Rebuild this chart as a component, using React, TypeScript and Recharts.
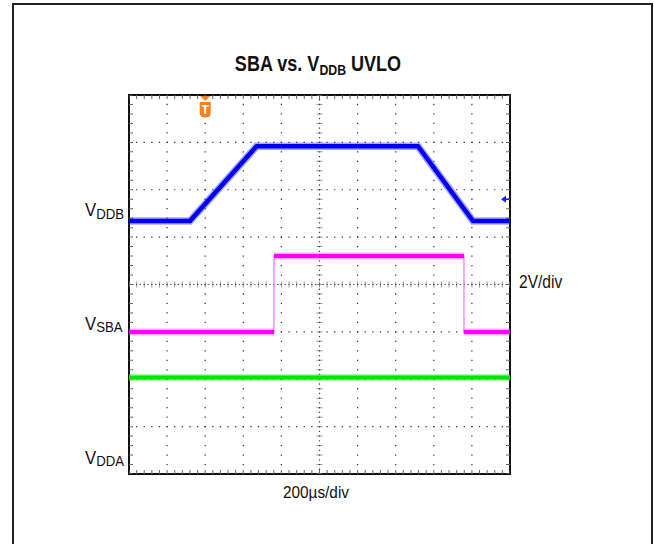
import React from 'react';
import { LineChart, Line, XAxis, YAxis, ReferenceLine, ReferenceArea, ReferenceDot, Customized } from 'recharts';

// Oscilloscope capture, values in screen divisions (x: 0..10 div @ 200µs/div, y: 0..8 div @ 2V/div)
const vddbTime = [0, 1.6, 3.35, 7.585, 9.03, 10];
const vddbLevel = [5.34, 5.34, 6.92, 6.92, 5.34, 5.34];
const sbaTime = [0, 3.806, 3.806, 8.79, 8.79, 10];
const sbaLevel = [3.0, 3.0, 4.6, 4.6, 3.0, 3.0];
const ddaTime = [0, 10];
const ddaLevel = [2.037, 2.037];

const xDivs = [0, 1, 2, 3, 4, 5, 6, 7, 8, 9, 10];
const yDivs = [0, 1, 2, 3, 4, 5, 6, 7, 8];
const triggerTime = 2;
const refMarkerLevel = 5.8;

const W = 654;
const H = 544;
const M = { top: 95, right: 144, bottom: 70, left: 129 };
const plotW = W - M.left - M.right; // 381
const plotH = H - M.top - M.bottom; // 379
const pxX = plotW / 10;
const pxY = plotH / 8;

const toData = (t: number[], v: number[]) => t.map((x, i) => ({ t: x, v: v[i] }));
// flat segments only (breaks at vertical edges)
const flatsOnly = (t: number[], v: number[]) => {
  const out: { t: number; v: number | null }[] = [];
  t.forEach((x, i) => {
    out.push({ t: x, v: v[i] });
    if (i < t.length - 1 && t[i + 1] === x) out.push({ t: x, v: null });
  });
  return out;
};

const vddbData = toData(vddbTime, vddbLevel);
const sbaData = toData(sbaTime, sbaLevel);
const sbaFlats = flatsOnly(sbaTime, sbaLevel);
const ddaData = toData(ddaTime, ddaLevel);

const FONT = 'Liberation Sans, Arial, Helvetica, sans-serif';

const TextLayer = () => (
  <g fontFamily={FONT} fill="#111">
    <rect x={13} y={4} width={639} height={560} fill="none" stroke="#222" strokeWidth={2} />
    <text transform="translate(318,71) scale(0.82,1)" textAnchor="middle" fontSize={22} fontWeight="bold">
      SBA vs. V<tspan fontSize={15} dy={4}>DDB</tspan>
      <tspan dy={-4}> UVLO</tspan>
    </text>
    <text transform="translate(85,216) scale(0.88,1)" fontSize={19}>
      V<tspan fontSize={15} dy={3}>DDB</tspan>
    </text>
    <text transform="translate(85,330) scale(0.88,1)" fontSize={19}>
      V<tspan fontSize={15} dy={2}>SBA</tspan>
    </text>
    <text transform="translate(85,464) scale(0.88,1)" fontSize={19}>
      V<tspan fontSize={15} dy={2}>DDA</tspan>
    </text>
    <text transform="translate(519,288) scale(0.89,1)" fontSize={17.5}>2V/div</text>
    <text transform="translate(283,498) scale(0.93,1)" fontSize={16.5}>200µs/div</text>
  </g>
);

const TriggerShape = (props: any) => {
  const { cx, cy } = props;
  if (cx == null || cy == null) return null;
  const c = '#f5821f';
  return (
    <g>
      <polygon points={`${cx - 5},${cy + 1} ${cx + 5},${cy + 1} ${cx},${cy + 6}`} fill={c} />
      <path
        d={`M${cx - 5.5},${cy + 7} L${cx + 5.5},${cy + 7} L${cx + 5.5},${cy + 18} Q${cx + 5.5},${cy + 22.5} ${cx},${cy + 22.5} Q${cx - 5.5},${cy + 22.5} ${cx - 5.5},${cy + 18} Z`}
        fill={c}
      />
      <text x={cx} y={cy + 19} textAnchor="middle" fill="#fff" fontSize={12} fontWeight="bold" fontFamily={FONT}>
        T
      </text>
    </g>
  );
};

const ArrowShape = (props: any) => {
  const { cx, cy } = props;
  if (cx == null || cy == null) return null;
  return (
    <g>
      <polygon points={`${cx - 9},${cy} ${cx - 4},${cy - 3.5} ${cx - 4},${cy + 3.5}`} fill="#1a1aff" />
      <line x1={cx - 5} y1={cy} x2={cx - 1} y2={cy} stroke="#1a1aff" strokeWidth={1.5} />
    </g>
  );
};

export default function App() {
  const hMinor = pxX / 5;
  const vMinor = pxY / 5;
  const dotH = `1.3 ${hMinor - 1.3}`;
  const dotV = `1.3 ${vMinor - 1.3}`;
  const edgeX = 2 / pxX;
  const edgeY = 2 / pxY;
  return (
    <div style={{ position: 'absolute', left: 0, top: 0, width: W, height: H, background: '#fff' }}>
      <LineChart width={W} height={H} margin={M}>
        <XAxis type="number" dataKey="t" domain={[0, 10]} ticks={xDivs} hide allowDataOverflow />
        <YAxis type="number" domain={[0, 8]} ticks={yDivs} hide allowDataOverflow />

        {xDivs.filter((d) => d > 0 && d < 10 && d !== 5).map((d) => (
          <ReferenceLine key={`vx${d}`} x={d} stroke="#333" strokeWidth={1.2} strokeDasharray={dotV} strokeDashoffset={0.65} />
        ))}
        {yDivs.filter((d) => d > 0 && d < 8 && d !== 4).map((d) => (
          <ReferenceLine key={`hy${d}`} y={d} stroke="#333" strokeWidth={1.2} strokeDasharray={dotH} strokeDashoffset={0.65} />
        ))}
        {/* center cross with minor ticks */}
        <ReferenceLine y={4} stroke="#999" strokeWidth={6} strokeDasharray={`1 ${hMinor - 1}`} strokeDashoffset={0.5} />
        <ReferenceLine y={4} stroke="#444" strokeWidth={1.2} strokeDasharray={`1.3 ${hMinor / 2 - 1.3}`} strokeDashoffset={0.65} />
        <ReferenceLine x={5} stroke="#999" strokeWidth={6} strokeDasharray={`1 ${vMinor - 1}`} strokeDashoffset={0.5} />
        <ReferenceLine x={5} stroke="#444" strokeWidth={1.2} strokeDasharray={`1.3 ${vMinor / 2 - 1.3}`} strokeDashoffset={0.65} />
        {/* frame edge ticks */}
        <ReferenceLine y={8 - edgeY} stroke="#666" strokeWidth={4} strokeDasharray={`1 ${hMinor - 1}`} strokeDashoffset={0.5} />
        <ReferenceLine y={edgeY} stroke="#666" strokeWidth={4} strokeDasharray={`1 ${hMinor - 1}`} strokeDashoffset={0.5} />
        <ReferenceLine x={edgeX} stroke="#666" strokeWidth={4} strokeDasharray={`1 ${vMinor - 1}`} strokeDashoffset={0.5} />
        <ReferenceLine x={10 - edgeX} stroke="#666" strokeWidth={4} strokeDasharray={`1 ${vMinor - 1}`} strokeDashoffset={0.5} />
        <ReferenceArea x1={0} x2={10} y1={0} y2={8} fill="none" stroke="#111" strokeWidth={2} fillOpacity={0} />

        {/* traces */}
        <Line data={ddaData} dataKey="v" stroke="#44ee44" strokeWidth={7} strokeOpacity={0.45} dot={false} isAnimationActive={false} />
        <Line data={ddaData} dataKey="v" stroke="#00e600" strokeWidth={4} dot={false} isAnimationActive={false} />
        <Line data={sbaData} dataKey="v" stroke="#ff88ff" strokeWidth={1.5} dot={false} isAnimationActive={false} />
        <Line data={sbaFlats} dataKey="v" stroke="#ff44ff" strokeWidth={7} strokeOpacity={0.45} dot={false} connectNulls={false} isAnimationActive={false} />
        <Line data={sbaFlats} dataKey="v" stroke="#ff00ff" strokeWidth={4} dot={false} connectNulls={false} isAnimationActive={false} />
        <Line data={vddbData} dataKey="v" stroke="#3a3aff" strokeWidth={7.5} strokeOpacity={0.45} dot={false} isAnimationActive={false} />
        <Line data={vddbData} dataKey="v" stroke="#0000ee" strokeWidth={4.5} dot={false} isAnimationActive={false} />

        <ReferenceDot x={triggerTime} y={8} r={0} shape={TriggerShape} />
        <ReferenceDot x={10} y={refMarkerLevel} r={0} shape={ArrowShape} />
        <Customized component={TextLayer} />
      </LineChart>
    </div>
  );
}
